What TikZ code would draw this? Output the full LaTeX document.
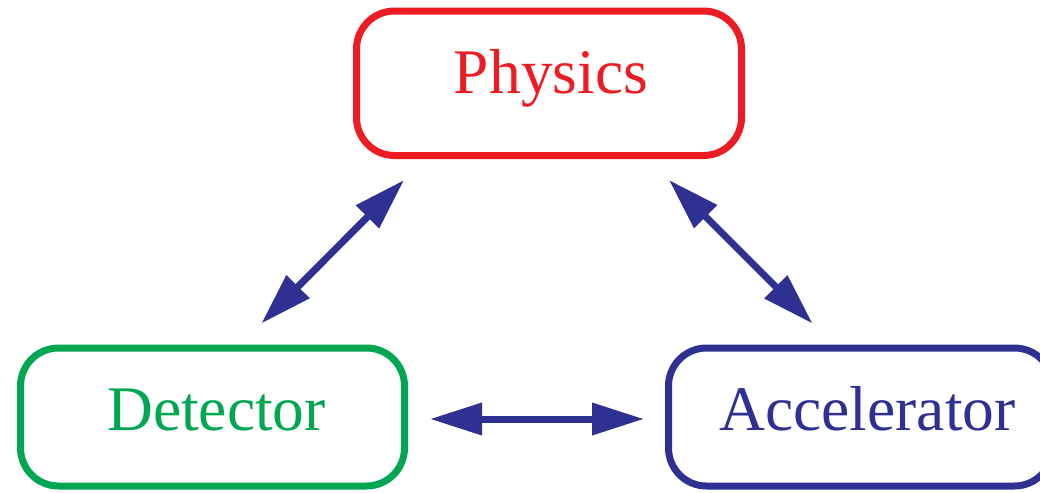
\documentclass[tikz,border=0pt]{standalone}
\usepackage{fontspec}
\setmainfont{Liberation Serif}
\usetikzlibrary{arrows.meta}
\definecolor{physred}{HTML}{ED1C24}
\definecolor{detgreen}{HTML}{00A651}
\definecolor{accblue}{HTML}{2E3192}
\begin{document}
\begin{tikzpicture}[x=0.5pt,y=-0.5pt,
  area/.style={draw, line width=3.5pt, rounded corners=19pt, outer sep=0pt,
    minimum width=192pt, minimum height=69pt, text height=21.5pt, text depth=8.5pt,
    font=\fontsize{31.75}{36}\selectfont},
  link/.style={accblue, line width=3.5pt, {Triangle[length=26pt,width=15.5pt]}-{Triangle[length=26pt,width=15.5pt]},
    shorten <=17.3pt, shorten >=17.3pt}]
  \useasboundingbox (0,0) rectangle (1040,493);
  \clip (0,0) rectangle (1040,493);
  \node[area, physred, minimum width=192.5pt, minimum height=72.25pt, text depth=11.75pt] (phys) at (549,83.25) {\hspace*{2pt}Physics};
  \node[area, detgreen] (det) at (212.5,417) {\hspace*{4pt}Detector};
  \node[area, accblue] (acc) at (860.5,417) {\hspace*{7pt}Accelerator};
  \draw[link] ([xshift=12.25pt]det.north) -- ([xshift=-60.25pt]phys.south);
  \draw[link] ([xshift=47.75pt]phys.south) -- ([xshift=-11.75pt]acc.north);
  \draw[link, shorten <=12.75pt, shorten >=12.25pt] ([yshift=-1pt]det.east) -- ([yshift=-1pt]acc.west);
\end{tikzpicture}
\end{document}
